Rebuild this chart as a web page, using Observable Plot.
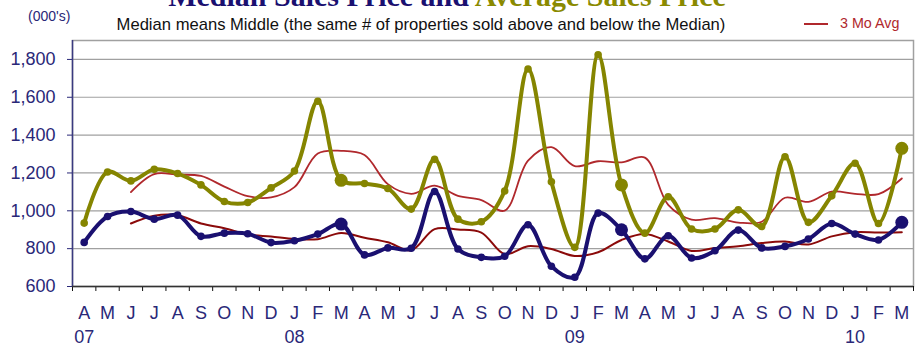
<!DOCTYPE html>
<html>
<head>
<meta charset="utf-8">
<script src="https://cdn.jsdelivr.net/npm/d3@7"></script>
<script src="https://cdn.jsdelivr.net/npm/@observablehq/plot@0.6"></script>
<style>
  html, body { margin: 0; padding: 0; background: #fff; }
  #chart { position: relative; width: 918px; height: 346px; overflow: hidden; font-family: "Liberation Sans", Arial, sans-serif; }
  #chart svg { position: absolute; left: 0; top: 0; }
  .title { position: absolute; left: 0; width: 894px; top: -19px; text-align: center; font-family: "Liberation Serif", "Times New Roman", serif; font-weight: bold; font-size: 30px; line-height: 30px; white-space: nowrap; }
  .subtitle { position: absolute; left: 0; width: 842px; top: 17px; text-align: center; font-size: 16.6px; line-height: 16px; color: #111; white-space: nowrap; }
  .units { position: absolute; left: 28px; top: 9px; font-size: 14px; line-height: 14px; color: #2a2878; }
  .legend-line { position: absolute; left: 804px; top: 23px; width: 24px; height: 2px; background: #b0282c; }
  .legend-text { position: absolute; left: 840px; top: 16px; font-size: 14.3px; line-height: 14px; color: #b0282c; white-space: nowrap; }
</style>
</head>
<body>
<div id="chart">
  <div class="title"><span style="color:#1a1070">Median Sales Price and </span><span style="color:#8a8a00">Average Sales Price</span></div>
  <div class="subtitle">Median means Middle (the same # of properties sold above and below the Median)</div>
  <div class="units">(000's)</div>
  <div class="legend-line"></div>
  <div class="legend-text">3 Mo Avg</div>
</div>
<script>
// Monthly periods, April 2007 through March 2010
const periods = [
  "Apr 07","May 07","Jun 07","Jul 07","Aug 07","Sep 07","Oct 07","Nov 07","Dec 07","Jan 08","Feb 08","Mar 08",
  "Apr 08","May 08","Jun 08","Jul 08","Aug 08","Sep 08","Oct 08","Nov 08","Dec 08","Jan 09","Feb 09","Mar 09",
  "Apr 09","May 09","Jun 09","Jul 09","Aug 09","Sep 09","Oct 09","Nov 09","Dec 09","Jan 10","Feb 10","Mar 10"
];
// Single-letter month labels on the axis
const monthLabels = ["A","M","J","J","A","S","O","N","D","J","F","M",
                     "A","M","J","J","A","S","O","N","D","J","F","M",
                     "A","M","J","J","A","S","O","N","D","J","F","M"];
// Year labels and the period each sits under
const yearLabels = ["07", "08", "09", "10"];
const yearPeriods = ["Apr 07", "Jan 08", "Jan 09", "Jan 10"];
// Periods drawn with a larger marker
const bigMarkerPeriods = ["Mar 08", "Mar 09", "Mar 10"];

// Average sales price (000's)
const averagePrice = [935,1205,1158,1219,1197,1137,1049,1044,1121,1210,1579,1161,
                      1144,1118,1009,1272,956,942,1105,1749,1153,807,1825,1137,
                      882,1074,904,904,1005,917,1286,939,1079,1251,933,1330];
// Median sales price (000's)
const medianPrice = [833,970,996,956,977,865,882,879,832,842,877,930,
                     767,804,802,1102,798,754,760,926,707,649,988,900,
                     746,868,751,789,898,804,812,851,933,877,846,939];
// 3 month average of the average price (starts June 07)
const average3Mo = [null,null,1099,1194,1191,1184,1128,1077,1071,1125,1303,1317,
                    1295,1141,1090,1133,1079,1057,1001,1265,1336,1236,1262,1256,
                    1281,1031,953,961,938,942,1069,1047,1101,1090,1088,1171];
// 3 month average of the median price (starts June 07)
const median3Mo = [null,null,933,974,976,933,908,875,864,851,850,883,
                   858,834,791,903,901,885,771,813,798,761,781,846,
                   878,838,788,803,813,830,838,822,865,887,885,887];

const yTicks = [600, 800, 1000, 1200, 1400, 1600, 1800];

const rows = (values) => values.map((v, i) => ({i, period: periods[i], v})).filter(d => d.v != null);
const avgRows = rows(averagePrice);
const medRows = rows(medianPrice);
const avg3Rows = rows(average3Mo);
const med3Rows = rows(median3Mo);

const idx = periods.map((_, i) => i);
const boundaries = d3.range(periods.length + 1).map(i => i - 0.5);
const yearIdx = yearPeriods.map(p => periods.indexOf(p));

const navy = "#1a1070";
const olive = "#858500";
const labelColor = "#2a2878";
const isBig = d => bigMarkerPeriods.includes(d.period);

const chart = Plot.plot({
  width: 918,
  height: 346,
  marginLeft: 72,
  marginRight: 5,
  marginTop: 40,
  marginBottom: 60,
  style: {fontFamily: "'Liberation Sans', Arial, sans-serif", fontSize: "18px", background: "transparent"},
  x: {type: "linear", domain: [-0.5, periods.length - 0.5], axis: null, label: null},
  y: {domain: [600, 1900], axis: null, label: null},
  marks: [
    Plot.gridY({ticks: yTicks.filter(t => t > 600), stroke: "#a0a0a0", strokeOpacity: 1, strokeWidth: 1.2}),
    Plot.frame({stroke: "#a0a0a0", strokeWidth: 1.5}),
    // axes
    Plot.axisY({ticks: yTicks, tickFormat: d3.format(","), tickSize: 5, tickPadding: 12, color: labelColor, fontSize: 18, label: null}),
    Plot.axisX({ticks: boundaries, tickFormat: () => "", tickSize: 5, stroke: "#111", label: null}),
    Plot.axisX({ticks: idx, tickFormat: i => monthLabels[i], tickSize: 0, tickPadding: 20, fill: labelColor, fontSize: 18, label: null}),
    Plot.axisX({ticks: yearIdx, tickFormat: i => yearLabels[yearIdx.indexOf(i)], tickSize: 0, tickPadding: 44, fill: labelColor, fontSize: 18, label: null}),
    Plot.ruleX([-0.5], {stroke: "#3a3a80", strokeWidth: 1.5}),
    Plot.ruleY([600], {stroke: "#333", strokeWidth: 1.5}),
    // 3 month averages
    Plot.line(avg3Rows, {x: "i", y: "v", curve: "catmull-rom", stroke: "#b0282c", strokeWidth: 1.8}),
    Plot.line(med3Rows, {x: "i", y: "v", curve: "catmull-rom", stroke: "#8b0a0a", strokeWidth: 2}),
    // average price
    Plot.line(avgRows, {x: "i", y: "v", curve: "catmull-rom", stroke: olive, strokeWidth: 4}),
    Plot.dot(avgRows, {filter: d => !isBig(d), x: "i", y: "v", r: 3.8, fill: olive}),
    Plot.dot(avgRows, {filter: isBig, x: "i", y: "v", r: 6.5, fill: olive}),
    // median price
    Plot.line(medRows, {x: "i", y: "v", curve: "catmull-rom", stroke: navy, strokeWidth: 4}),
    Plot.dot(medRows, {filter: d => !isBig(d), x: "i", y: "v", r: 3.8, fill: navy}),
    Plot.dot(medRows, {filter: isBig, x: "i", y: "v", r: 6.5, fill: navy})
  ]
});
document.getElementById("chart").prepend(chart);
</script>
</body>
</html>
